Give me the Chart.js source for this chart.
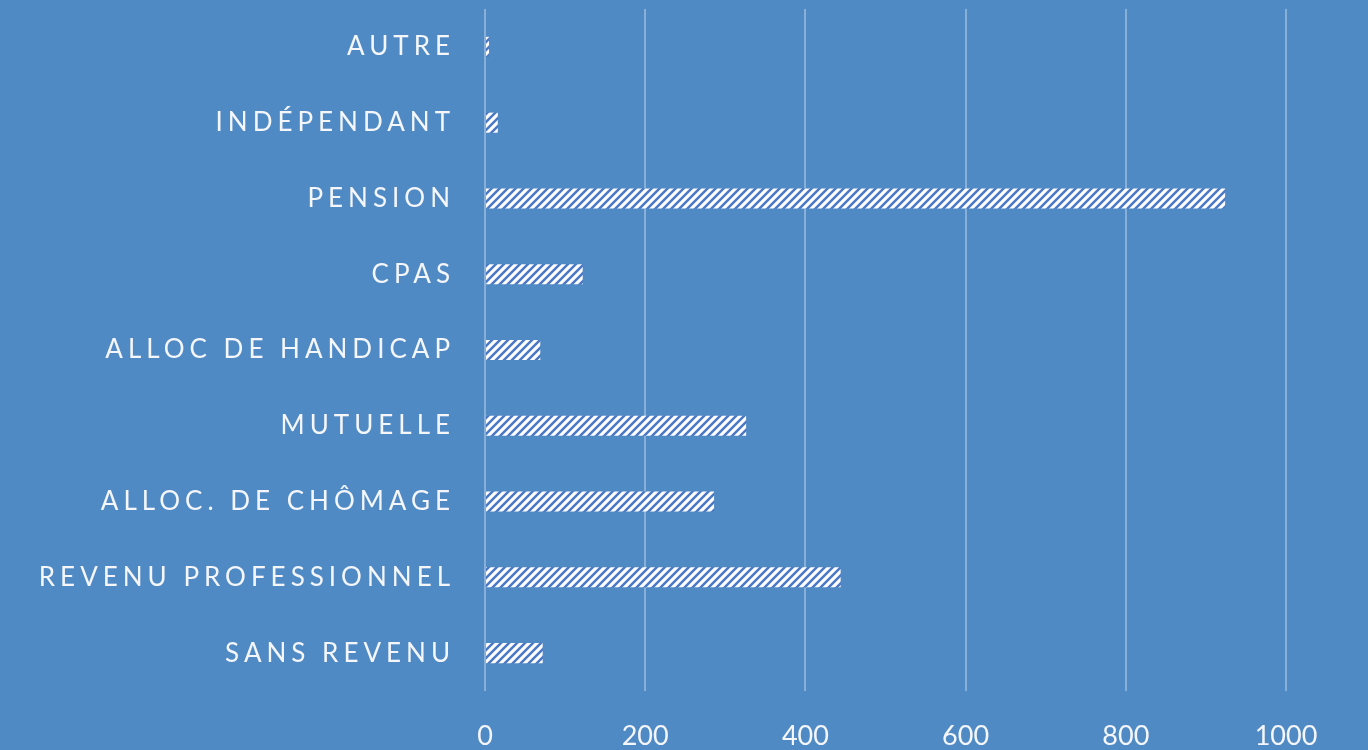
<!DOCTYPE html>
<html>
<head>
<meta charset="utf-8">
<script src="https://cdn.jsdelivr.net/npm/chart.js@4.4.0/dist/chart.umd.min.js"></script>
<style>
  html, body { margin: 0; padding: 0; background: #508ac5; }
  #wrap { width: 1368px; height: 750px; }
</style>
</head>
<body>
<div id="wrap"><canvas id="revenus" width="1368" height="750"></canvas></div>
<script>
// categories, top to bottom as in the picture
var categories = ["AUTRE", "INDÉPENDANT", "PENSION", "CPAS", "ALLOC DE HANDICAP",
  "MUTUELLE", "ALLOC. DE CHÔMAGE", "REVENU PROFESSIONNEL", "SANS REVENU"];
var counts = [5, 16, 924, 122, 69, 326, 286, 444, 72];
var xTicks = [0, 200, 400, 600, 800, 1000];

// hatch fill: white with blue "/" stripes
function makeHatch() {
  var p = document.createElement("canvas");
  p.width = 8; p.height = 8;
  var g = p.getContext("2d");
  g.fillStyle = "#ffffff";
  g.fillRect(0, 0, 8, 8);
  g.strokeStyle = "#4a78c6";
  g.lineWidth = 2.5;
  g.beginPath();
  g.moveTo(0, 8); g.lineTo(8, 0);
  g.moveTo(-1, 1); g.lineTo(1, -1);
  g.moveTo(7, 9); g.lineTo(9, 7);
  g.stroke();
  return g.createPattern(p, "repeat");
}

// spaced-out letters on the category labels only
var spacedLabels = {
  id: "spacedLabels",
  afterLayout: function (chart) {
    var y = chart.scales.y;
    if (y._spaced) return;
    var orig = y.drawLabels;
    y.drawLabels = function (area) {
      var ctx = this.ctx;
      ctx.save();
      ctx.letterSpacing = "5px";
      orig.call(this, area);
      ctx.restore();
    };
    y._spaced = true;
  }
};

var ctx = document.getElementById("revenus").getContext("2d");
var chart = new Chart(ctx, {
  type: "bar",
  data: {
    labels: categories,
    datasets: [{
      data: counts,
      backgroundColor: makeHatch(),
      borderWidth: 0,
      barPercentage: 0.53,
      categoryPercentage: 0.5
    }]
  },
  options: {
    indexAxis: "y",
    responsive: false,
    animation: false,
    layout: { padding: { top: 9, right: 82, left: 0, bottom: 0 } },
    plugins: { legend: { display: false }, tooltip: { enabled: false } },
    scales: {
      x: {
        min: 0, max: 1000,
        afterBuildTicks: function (s) { s.ticks = xTicks.map(function (v) { return { value: v }; }); },
        afterFit: function (s) { s.height = 59; s.paddingLeft = 0; s.paddingRight = 0; },
        grid: { color: "rgba(255,255,255,0.32)", lineWidth: 2, drawTicks: false },
        border: { display: false },
        ticks: {
          color: "#f4f6fa", font: { family: "Lato", size: 27 }, padding: 29,
          callback: function (v) { return String(v); }
        }
      },
      y: {
        afterFit: function (s) { s.width = 485; s.paddingTop = 0; s.paddingBottom = 0; },
        grid: { display: false },
        border: { display: false },
        ticks: { color: "#f4f6fa", font: { family: "Lato", size: 26 }, padding: 22 }
      }
    }
  },
  plugins: [spacedLabels]
});
</script>
</body>
</html>
